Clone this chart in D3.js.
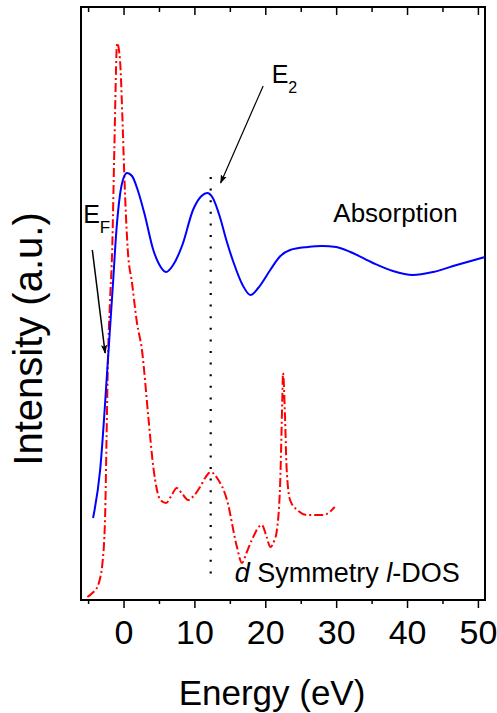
<!DOCTYPE html>
<html>
<head>
<meta charset="utf-8">
<script src="https://cdn.jsdelivr.net/npm/d3@7"></script>
<style>
  body { margin: 0; background: #fff; }
  text { font-family: Arial, "Liberation Sans", sans-serif; fill: #000; }
</style>
</head>
<body>
<script>
// Absorption spectrum (blue, solid)
const absEnergy = [-4.3, -3.3, -2.2, -1.5, -1.0, -0.5, 0.0, 0.5, 1.2, 2.0, 3.0, 4.2, 5.0, 6.0, 7.0, 8.3, 9.8, 11.0, 11.8, 12.6, 13.6, 14.5, 15.5, 16.8, 17.9, 19.0, 20.7, 22.0, 23.5, 26.0, 28.0, 30.0, 32.0, 35.2, 38.0, 40.8, 43.7, 47.0, 51.0];
const absIntensity = [82, 130, 240, 315, 370, 405, 422, 427, 424, 410, 385, 350, 336, 328, 335, 355, 390, 404, 407, 402, 383, 360, 338, 315, 305, 312, 330, 343, 350, 353, 354, 353, 348, 337, 329, 325, 328, 335, 343];

// d symmetry l-DOS (red, dash-dot)
const dosEnergy = [-5.1, -4.4, -3.7, -3.3, -3.0, -2.6, -2.4, -2.2, -1.9, -1.6, -1.3, -0.9, -0.5, -0.1, 0.1, 0.6, 1.2, 1.9, 2.6, 3.5, 4.2, 5.2, 6.0, 6.8, 7.5, 8.3, 9.1, 10.0, 10.8, 11.6, 12.3, 13.2, 14.6, 16.0, 16.7, 17.4, 18.1, 19.5, 20.2, 20.7, 21.3, 21.6, 22.1, 22.4, 22.5, 22.8, 23.0, 23.5, 24.5, 25.9, 28.2, 29.8];
const dosIntensity = [3, 7, 13, 22, 35, 83, 160, 240, 300, 350, 450, 557, 540, 470, 427, 350, 317, 277, 250, 183, 133, 100, 97, 105, 112, 106, 100, 105, 113, 123, 128, 122, 100, 53, 37, 48, 60, 75, 63, 53, 60, 68, 117, 200, 227, 180, 133, 100, 90, 85, 85, 93];

const majorTicks = [0, 10, 20, 30, 40, 50];
const minorTicks = [-5, 5, 15, 25, 35, 45];
const e2Energy = 12.3;

const W = 497, H = 713;
const margin = { top: 7, right: 12, bottom: 113, left: 81 };
const iw = W - margin.left - margin.right;
const ih = H - margin.top - margin.bottom;

const svg = d3.select("body").append("svg")
  .attr("width", W).attr("height", H);

const defs = svg.append("defs");
defs.append("marker")
  .attr("id", "arrow")
  .attr("viewBox", "0 0 10 10")
  .attr("refX", 9).attr("refY", 5)
  .attr("markerWidth", 9).attr("markerHeight", 9)
  .attr("markerUnits", "userSpaceOnUse")
  .attr("orient", "auto")
  .append("path")
  .attr("d", "M0,1.5 L10,5 L0,8.5 L2,5 Z")
  .attr("fill", "#000");

const g = svg.append("g")
  .attr("transform", `translate(${margin.left},${margin.top})`);

const x = d3.scaleLinear().domain([-6, 51]).range([0, iw]);
const y = d3.scaleLinear().domain([0, 593]).range([ih, 0]);

// bottom axis, ticks outward
const bottomAxis = g.append("g").attr("transform", `translate(0,${ih})`);
bottomAxis.call(d3.axisBottom(x).tickValues(majorTicks).tickSize(8).tickPadding(12)
  .tickFormat(d3.format("d")));
bottomAxis.append("g").call(d3.axisBottom(x).tickValues(minorTicks).tickSize(4).tickFormat(""));
bottomAxis.selectAll(".domain").remove();
bottomAxis.selectAll("line").attr("stroke", "#000").attr("stroke-width", 1.5);
bottomAxis.selectAll("text").style("font-size", "34px").attr("fill", "#000");

// top axis, ticks inward
const topAxis = g.append("g");
topAxis.call(d3.axisBottom(x).tickValues(majorTicks).tickSize(8).tickFormat(""));
topAxis.append("g").call(d3.axisBottom(x).tickValues(minorTicks).tickSize(5).tickFormat(""));
topAxis.selectAll(".domain").remove();
topAxis.selectAll("line").attr("stroke", "#000").attr("stroke-width", 1.5);

// frame
g.append("rect")
  .attr("width", iw).attr("height", ih)
  .attr("fill", "none").attr("stroke", "#000").attr("stroke-width", 2);

const line = d3.line()
  .x(d => x(d[0]))
  .y(d => y(d[1]))
  .curve(d3.curveMonotoneX);

// E2 dotted marker
g.append("line")
  .attr("x1", x(e2Energy)).attr("x2", x(e2Energy))
  .attr("y1", y(423)).attr("y2", y(22))
  .attr("stroke", "#000").attr("stroke-width", 2.2)
  .attr("stroke-dasharray", "2,9.6");

g.append("path")
  .attr("d", line(d3.zip(dosEnergy, dosIntensity)))
  .attr("fill", "none").attr("stroke", "#ff0000").attr("stroke-width", 2)
  .attr("stroke-dasharray", "9,3,2,3");

g.append("path")
  .attr("d", line(d3.zip(absEnergy, absIntensity)))
  .attr("fill", "none").attr("stroke", "#0000ff").attr("stroke-width", 2);

// arrows
g.append("line")
  .attr("x1", x(19.7)).attr("y1", y(514))
  .attr("x2", x(13.7)).attr("y2", y(417))
  .attr("stroke", "#000").attr("stroke-width", 1.2)
  .attr("marker-end", "url(#arrow)");
g.append("line")
  .attr("x1", x(-4.4)).attr("y1", y(350))
  .attr("x2", x(-2.6)).attr("y2", y(247))
  .attr("stroke", "#000").attr("stroke-width", 1.5)
  .attr("marker-end", "url(#arrow)");

// annotations
const e2 = g.append("text").attr("x", x(20.9)).attr("y", y(517)).style("font-size", "25px");
e2.append("tspan").text("E");
e2.append("tspan").attr("dy", 10).style("font-size", "16px").text("2");

const ef = g.append("text").attr("x", x(-5.7)).attr("y", y(377)).style("font-size", "25px");
ef.append("tspan").text("E");
ef.append("tspan").attr("dy", 10).style("font-size", "17px").text("F");

g.append("text").attr("x", x(29.6)).attr("y", y(378))
  .style("font-size", "26px").text("Absorption");

const dl = g.append("text").attr("x", x(15.7)).attr("y", y(18)).style("font-size", "27px");
dl.append("tspan").style("font-style", "italic").text("d");
dl.append("tspan").text(" Symmetry ");
dl.append("tspan").style("font-style", "italic").text("l");
dl.append("tspan").text("-DOS");

// axis titles
svg.append("text")
  .attr("x", 272).attr("y", 705)
  .attr("text-anchor", "middle")
  .style("font-size", "35px")
  .text("Energy (eV)");

svg.append("text")
  .attr("transform", "translate(42,339) rotate(-90)")
  .attr("text-anchor", "middle")
  .style("font-size", "40px")
  .text("Intensity (a.u.)");
</script>
</body>
</html>
